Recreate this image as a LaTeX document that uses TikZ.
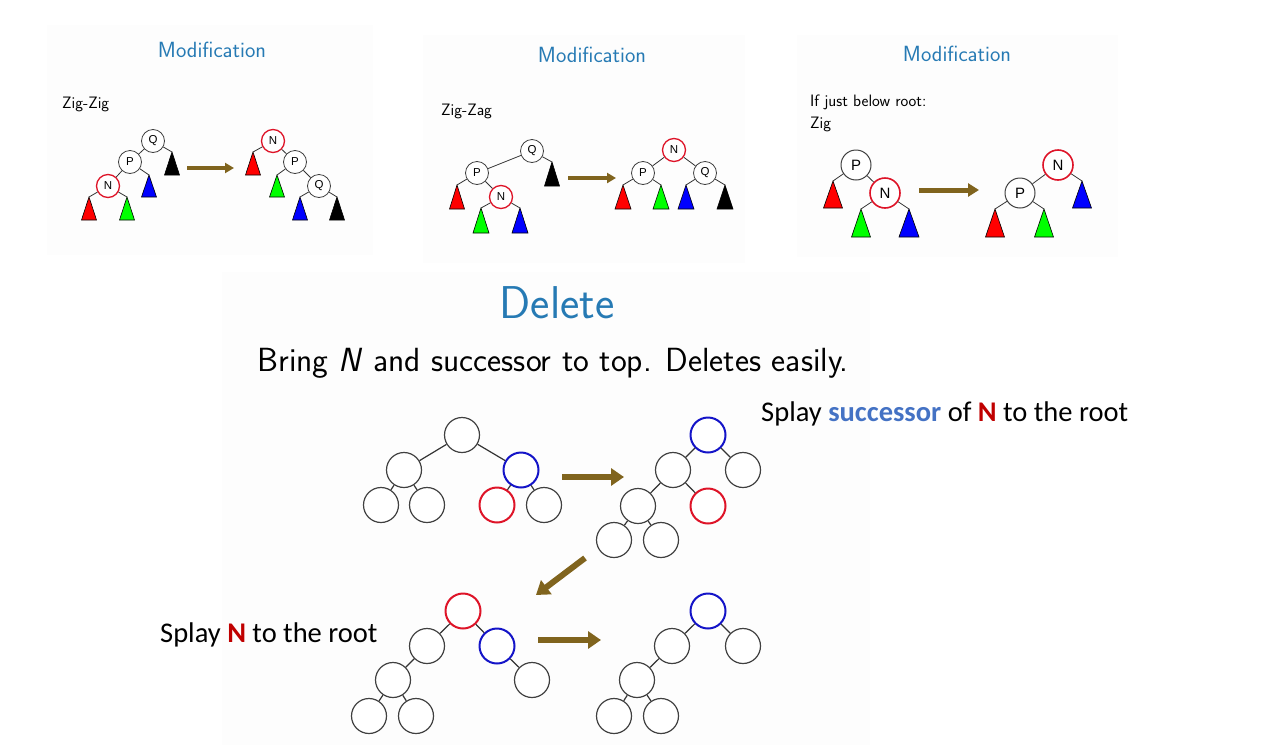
\documentclass[tikz,border=0pt]{standalone}
\usepackage{fontspec}
\newfontfamily\arialf{Liberation Sans}
\newfontfamily\calibrif{Carlito}
\usetikzlibrary{arrows.meta}
\definecolor{slideblue}{RGB}{38,122,180}
\definecolor{arrowolive}{RGB}{128,100,30}
\definecolor{nred}{RGB}{222,20,40}
\definecolor{nblue}{RGB}{20,20,200}
\definecolor{tred}{RGB}{255,0,0}
\definecolor{tgreen}{RGB}{0,255,0}
\definecolor{tblue}{RGB}{0,0,255}
\definecolor{calblue}{RGB}{68,114,196}
\definecolor{calred}{RGB}{192,0,0}
\definecolor{panelbg}{RGB}{253,253,253}
\newcommand\trinode[6]{%
  \coordinate (#1) at (#2,#3);
  \filldraw[fill=#4, draw=black, line width=0.6pt] (#1) -- ++(-#5,#6) -- ++(2*#5,0) -- cycle;}
\tikzset{
  sn/.style={circle, draw=black!75, fill=white, line width=0.8pt, minimum size=23pt, inner sep=0pt, font=\arialf\fontsize{11.5}{12}\selectfont},
  snred/.style={sn, draw=nred, line width=1.3pt},
  mn/.style={sn, minimum size=30pt, line width=1pt, font=\arialf\fontsize{15}{16}\selectfont},
  mnred/.style={mn, draw=nred, line width=1.6pt},
  bn/.style={circle, draw=black!75, fill=white, line width=1.2pt, minimum size=35pt, inner sep=0pt},
  bnred/.style={bn, draw=nred, line width=2pt},
  bnblue/.style={bn, draw=nblue, line width=2pt},
  edge/.style={draw=black!80, line width=0.8pt},
  bedge/.style={draw=black!80, line width=1.2pt},
  smallarrow/.style={draw=arrowolive, line width=3.5pt, -{Triangle[length=9pt,width=10pt]}},
  midarrow/.style={draw=arrowolive, line width=5pt, -{Triangle[length=11pt,width=13pt]}},
  bigarrow/.style={draw=arrowolive, line width=6pt, -{Triangle[length=13pt,width=17pt]}},
  title/.style={anchor=base, inner sep=0pt, text=slideblue, font=\sffamily\fontsize{22}{26}\selectfont},
  slidetext/.style={anchor=base west, inner sep=0pt, font=\sffamily\fontsize{16.5}{19}\selectfont},
  callout/.style={anchor=base west, inner sep=0pt, font=\calibrif\fontsize{28.5}{32}\selectfont}
}
\begin{document}
\begin{tikzpicture}[x=1pt, y=-1pt]
\useasboundingbox (0,0) rectangle (1261,745);
% panel backgrounds
\fill[panelbg] (47,25) rectangle (373,255);
\fill[panelbg] (423,35) rectangle (745,263);
\fill[panelbg] (797,35) rectangle (1118,257);
\fill[panelbg] (222,272) rectangle (870,745);

% ---------- Panel 1: Zig-Zig ----------
\node[title] (m1) at (212,57) {Modification};
\node[slidetext] (z1) at (62,108) {Zig-Zig};
\node[sn] (a1Q) at (153,141) {Q};
\node[sn] (a1P) at (130,162) {P};
\node[snred] (a1N) at (108,186) {N};
\trinode{a1k}{172}{152}{black}{7.5}{23}
\trinode{a1b}{149}{175}{tblue}{7.5}{22}
\trinode{a1r}{89}{197}{tred}{7.5}{23}
\trinode{a1g}{127}{197}{tgreen}{7.5}{23}
\draw[edge] (a1Q) -- (a1P) (a1P) -- (a1N) (a1Q) -- (a1k) (a1P) -- (a1b) (a1N) -- (a1r) (a1N) -- (a1g);
\coordinate (ar1s) at (187,168);
\coordinate (ar1e) at (234,168);
\draw[smallarrow] (ar1s) -- (ar1e);
\node[snred] (b1N) at (273,141) {N};
\node[sn] (b1P) at (295,162) {P};
\node[sn] (b1Q) at (319,186) {Q};
\trinode{b1r}{253}{152}{tred}{7.5}{23}
\trinode{b1g}{277}{175}{tgreen}{7.5}{22}
\trinode{b1b}{300}{197}{tblue}{7.5}{23}
\trinode{b1k}{337}{197}{black}{7.5}{23}
\draw[edge] (b1N) -- (b1P) (b1P) -- (b1Q) (b1N) -- (b1r) (b1P) -- (b1g) (b1Q) -- (b1b) (b1Q) -- (b1k);

% ---------- Panel 2: Zig-Zag ----------
\node[title] (m2) at (592,62) {Modification};
\node[slidetext] (z2) at (441,115) {Zig-Zag};
\node[sn] (a2Q) at (532,151) {Q};
\node[sn] (a2P) at (477,173) {P};
\node[snred] (a2N) at (501,197) {N};
\trinode{a2k}{552}{162}{black}{7.5}{24}
\trinode{a2r}{457}{185}{tred}{7.5}{24}
\trinode{a2g}{481}{208}{tgreen}{8}{25}
\trinode{a2b}{520}{208}{tblue}{8}{25}
\draw[edge] (a2Q) -- (a2P) (a2P) -- (a2N) (a2Q) -- (a2k) (a2P) -- (a2r) (a2N) -- (a2g) (a2N) -- (a2b);
\coordinate (ar2s) at (568,178);
\coordinate (ar2e) at (616,178);
\draw[smallarrow] (ar2s) -- (ar2e);
\node[snred] (b2N) at (674,150) {N};
\node[sn] (b2P) at (643,173) {P};
\node[sn] (b2Q) at (705,173) {Q};
\trinode{b2r}{623}{185}{tred}{8}{24}
\trinode{b2g}{661}{185}{tgreen}{8}{24}
\trinode{b2b}{686}{185}{tblue}{8}{24}
\trinode{b2k}{725}{185}{black}{8}{24}
\draw[edge] (b2N) -- (b2P) (b2N) -- (b2Q) (b2P) -- (b2r) (b2P) -- (b2g) (b2Q) -- (b2b) (b2Q) -- (b2k);

% ---------- Panel 3: Zig ----------
\node[title] (m3) at (957,61) {Modification};
\node[slidetext] (z3a) at (810,106) {If just below root:};
\node[slidetext] (z3b) at (810,128) {Zig};
\node[mn] (a3P) at (856,165) {P};
\node[mnred] (a3N) at (885,193) {N};
\trinode{a3r}{833}{181}{tred}{9.5}{27}
\trinode{a3g}{861}{209}{tgreen}{9.5}{28}
\trinode{a3b}{909}{209}{tblue}{10}{28}
\draw[edge] (a3P) -- (a3N) (a3P) -- (a3r) (a3N) -- (a3g) (a3N) -- (a3b);
\coordinate (ar3s) at (919,190);
\coordinate (ar3e) at (979,190);
\draw[midarrow] (ar3s) -- (ar3e);
\node[mnred] (b3N) at (1058,165) {N};
\node[mn] (b3P) at (1020,193) {P};
\trinode{b3b}{1082}{181}{tblue}{9.5}{27}
\trinode{b3r}{995}{209}{tred}{9.5}{28}
\trinode{b3g}{1044}{209}{tgreen}{9.5}{28}
\draw[edge] (b3N) -- (b3P) (b3N) -- (b3b) (b3P) -- (b3r) (b3P) -- (b3g);

% ---------- Delete ----------
\node[anchor=base, inner sep=0pt, text=slideblue, font=\sffamily\fontsize{46}{50}\selectfont] (del) at (557,318) {Delete};
\node[anchor=base, inner sep=0pt, font=\sffamily\fontsize{33.5}{38}\selectfont] (bring) at (553,371) {Bring \textit{N} and successor to top. Deletes easily.};

% tree 1
\node[bn] (t1r) at (462,435) {};
\node[bn] (t1L) at (404,470) {};
\node[bnblue] (t1R) at (521,470) {};
\node[bn] (t1LL) at (381,505) {};
\node[bn] (t1LR) at (427,505) {};
\node[bnred] (t1RL) at (497,505) {};
\node[bn] (t1RR) at (544,505) {};
\draw[bedge] (t1r) -- (t1L) (t1r) -- (t1R) (t1L) -- (t1LL) (t1L) -- (t1LR) (t1R) -- (t1RL) (t1R) -- (t1RR);
\coordinate (d1s) at (562,477);
\coordinate (d1e) at (624,477);
\draw[bigarrow] (d1s) -- (d1e);

% tree 2
\node[bnblue] (t2r) at (708,435) {};
\node[bn] (t2L) at (673,470) {};
\node[bn] (t2R) at (743,470) {};
\node[bn] (t2LL) at (638,506) {};
\node[bnred] (t2LR) at (708,506) {};
\node[bn] (t2LLL) at (614,540) {};
\node[bn] (t2LLR) at (661,540) {};
\draw[bedge] (t2r) -- (t2L) (t2r) -- (t2R) (t2L) -- (t2LL) (t2L) -- (t2LR) (t2LL) -- (t2LLL) (t2LL) -- (t2LLR);

\coordinate (d2s) at (585,558);
\coordinate (d2e) at (536,595);
\draw[bigarrow] (d2s) -- (d2e);

% tree 3
\node[bnred] (t3r) at (463,611) {};
\node[bn] (t3L) at (427,646) {};
\node[bnblue] (t3R) at (497,646) {};
\node[bn] (t3LL) at (393,680) {};
\node[bn] (t3RR) at (532,680) {};
\node[bn] (t3LLL) at (369,716) {};
\node[bn] (t3LLR) at (416,716) {};
\draw[bedge] (t3r) -- (t3L) (t3r) -- (t3R) (t3L) -- (t3LL) (t3R) -- (t3RR) (t3LL) -- (t3LLL) (t3LL) -- (t3LLR);
\coordinate (d3s) at (538,640);
\coordinate (d3e) at (601,640);
\draw[bigarrow] (d3s) -- (d3e);

% tree 4
\node[bnblue] (t4r) at (708,611) {};
\node[bn] (t4L) at (672,646) {};
\node[bn] (t4R) at (743,646) {};
\node[bn] (t4LL) at (637,680) {};
\node[bn] (t4LLL) at (614,716) {};
\node[bn] (t4LLR) at (661,716) {};
\draw[bedge] (t4r) -- (t4L) (t4r) -- (t4R) (t4L) -- (t4LL) (t4LL) -- (t4LLL) (t4LL) -- (t4LLR);

% callouts
\node[callout] (c1) at (761,421) {Splay \textbf{\textcolor{calblue}{successor}} of \textbf{\textcolor{calred}{N}} to the root};
\node[callout] (c2) at (160,642) {Splay \textbf{\textcolor{calred}{N}} to the root};
\end{tikzpicture}
\end{document}
